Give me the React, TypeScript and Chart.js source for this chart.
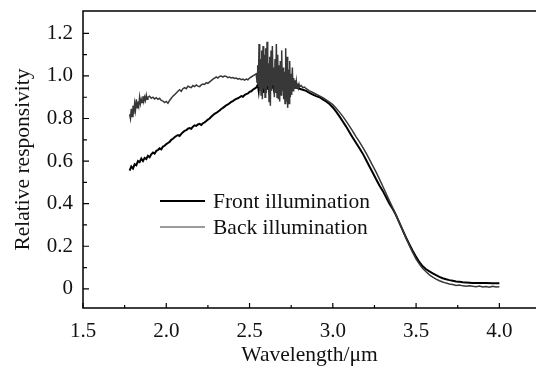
import React, { useEffect, useRef } from "react";
import { Chart, registerables } from "chart.js";

Chart.register(...registerables);

// ---------- data ----------
const frontWavelength: number[] = [
  1.78, 1.79, 1.8, 1.81, 1.82, 1.83, 1.84, 1.85, 1.86, 1.87, 1.88, 1.89, 1.9, 1.91, 1.92, 1.93, 1.94, 1.95, 1.96, 1.97,
  1.98, 1.99, 2.0, 2.01, 2.02, 2.03, 2.04, 2.05, 2.06, 2.07, 2.08, 2.09, 2.1, 2.11, 2.12, 2.13, 2.14, 2.15, 2.16, 2.17,
  2.18, 2.19, 2.2, 2.21, 2.22, 2.23, 2.24, 2.25, 2.26, 2.27, 2.28, 2.29, 2.3, 2.31, 2.32, 2.33, 2.34, 2.35, 2.36, 2.37,
  2.38, 2.39, 2.4, 2.41, 2.42, 2.43, 2.44, 2.45, 2.46, 2.47, 2.48, 2.49, 2.5, 2.51, 2.52, 2.53, 2.54,
  2.55, 2.555, 2.56, 2.565, 2.57, 2.575, 2.58, 2.585, 2.59, 2.595, 2.6, 2.605, 2.61, 2.615, 2.62, 2.625, 2.63, 2.635,
  2.64, 2.645, 2.65, 2.655, 2.66, 2.665, 2.67, 2.675, 2.68, 2.685, 2.69, 2.695, 2.7, 2.705, 2.71, 2.715, 2.72, 2.725,
  2.73, 2.735, 2.74, 2.745, 2.75, 2.755, 2.76,
  2.78, 2.8, 2.82, 2.84, 2.86, 2.88, 2.9, 2.92, 2.94, 2.96, 2.98, 3.0, 3.02, 3.04, 3.06, 3.08, 3.1, 3.12, 3.14, 3.16,
  3.18, 3.2, 3.22, 3.24, 3.26, 3.28, 3.3, 3.32, 3.34, 3.36, 3.38, 3.4, 3.42, 3.44, 3.46, 3.48, 3.5, 3.52, 3.54, 3.56,
  3.58, 3.6, 3.62, 3.64, 3.66, 3.68, 3.7, 3.72, 3.74, 3.76, 3.78, 3.8, 3.84, 3.88, 3.92, 3.96, 4.0,
];
const frontResponse: number[] = [
  0.555, 0.575, 0.565, 0.585, 0.58, 0.6, 0.595, 0.612, 0.6, 0.615, 0.61, 0.625, 0.618, 0.632, 0.64, 0.635, 0.648, 0.652, 0.66, 0.655,
  0.668, 0.672, 0.68, 0.685, 0.69, 0.7, 0.705, 0.712, 0.718, 0.722, 0.718, 0.728, 0.735, 0.742, 0.745, 0.752, 0.755, 0.752, 0.762, 0.768,
  0.765, 0.772, 0.775, 0.77, 0.778, 0.782, 0.788, 0.795, 0.8, 0.808, 0.815, 0.822, 0.826, 0.832, 0.838, 0.845, 0.85, 0.856, 0.862, 0.866,
  0.872, 0.878, 0.882, 0.888, 0.892, 0.895, 0.9, 0.905, 0.902, 0.91, 0.915, 0.918, 0.925, 0.928, 0.935, 0.94, 0.945,
  0.96, 0.93, 0.975, 0.94, 0.985, 0.95, 0.99, 0.92, 0.975, 0.93, 1.0, 0.94, 0.985, 0.95, 0.99, 0.93, 0.98, 0.945,
  0.995, 0.95, 0.975, 0.92, 0.965, 0.93, 0.975, 0.935, 0.96, 0.925, 0.97, 0.94, 0.965, 0.935, 0.96, 0.94, 0.955, 0.935,
  0.955, 0.94, 0.95, 0.94, 0.948, 0.94, 0.945,
  0.945, 0.94, 0.935, 0.93, 0.92, 0.912, 0.905, 0.9, 0.89, 0.88, 0.868, 0.852, 0.832, 0.81, 0.786, 0.762, 0.736, 0.71, 0.685, 0.66,
  0.635, 0.605, 0.575, 0.545, 0.515, 0.485, 0.46, 0.43, 0.4, 0.375, 0.345, 0.31, 0.275, 0.24, 0.208, 0.178, 0.15, 0.125, 0.106, 0.092,
  0.082, 0.073, 0.064, 0.056, 0.05, 0.045, 0.041, 0.038, 0.035, 0.033, 0.031, 0.03, 0.028, 0.027, 0.027, 0.026, 0.026,
];

const backWavelength: number[] = [
  1.78, 1.785, 1.79, 1.795, 1.8, 1.805, 1.81, 1.815, 1.82, 1.825, 1.83, 1.835, 1.84, 1.845, 1.85, 1.855, 1.86, 1.865, 1.87, 1.875,
  1.88, 1.885, 1.89, 1.9, 1.91, 1.92, 1.93, 1.94, 1.95, 1.96, 1.97, 1.98, 1.99, 2.0, 2.01, 2.02, 2.03, 2.04, 2.05, 2.06,
  2.07, 2.08, 2.09, 2.1, 2.11, 2.12, 2.13, 2.14, 2.15, 2.16, 2.17, 2.18, 2.19, 2.2, 2.21, 2.22, 2.23, 2.24, 2.25, 2.26,
  2.27, 2.28, 2.29, 2.3, 2.31, 2.32, 2.33, 2.34, 2.35, 2.36, 2.37, 2.38, 2.39, 2.4, 2.41, 2.42, 2.43, 2.44, 2.45, 2.46,
  2.47, 2.48, 2.49, 2.5, 2.51, 2.52, 2.53, 2.54,
  2.545, 2.549, 2.553, 2.557, 2.561, 2.565, 2.569, 2.573, 2.577, 2.581, 2.585, 2.589, 2.593, 2.597, 2.601, 2.605, 2.609, 2.613,
  2.617, 2.621, 2.625, 2.629, 2.633, 2.637, 2.641, 2.645, 2.649, 2.653, 2.657, 2.661, 2.665, 2.669, 2.673, 2.677, 2.681, 2.685,
  2.689, 2.693, 2.697, 2.701, 2.705, 2.709, 2.713, 2.717, 2.721, 2.725, 2.729, 2.733, 2.737, 2.741, 2.745, 2.749, 2.753, 2.757,
  2.761, 2.765, 2.769, 2.773, 2.777, 2.781, 2.785, 2.789, 2.793, 2.797, 2.8, 2.81, 2.82, 2.83, 2.84,
  2.86, 2.88, 2.9, 2.92, 2.94, 2.96, 2.98, 3.0, 3.02, 3.04, 3.06, 3.08, 3.1, 3.12, 3.14, 3.16, 3.18, 3.2, 3.22, 3.24,
  3.26, 3.28, 3.3, 3.32, 3.34, 3.36, 3.38, 3.4, 3.42, 3.44, 3.46, 3.48, 3.5, 3.52, 3.54, 3.56, 3.58, 3.6, 3.62, 3.64,
  3.66, 3.68, 3.7, 3.72, 3.74, 3.76, 3.78, 3.8, 3.82, 3.84, 3.86, 3.88, 3.9, 3.92, 3.94, 3.96, 3.98, 4.0,
];
const backResponse: number[] = [
  0.82, 0.8, 0.845, 0.81, 0.86, 0.82, 0.87, 0.84, 0.89, 0.85, 0.88, 0.86, 0.9, 0.87, 0.89, 0.875, 0.905, 0.88, 0.9, 0.885,
  0.91, 0.89, 0.9, 0.905, 0.895, 0.9, 0.892, 0.898, 0.89, 0.895, 0.885, 0.882, 0.875, 0.88, 0.872, 0.885, 0.895, 0.905, 0.912, 0.92,
  0.928, 0.935, 0.928, 0.94, 0.945, 0.94, 0.952, 0.948, 0.945, 0.955, 0.95, 0.958, 0.952, 0.95, 0.958, 0.962, 0.96, 0.968, 0.965, 0.972,
  0.978, 0.985, 0.99, 0.995, 0.99, 0.998, 1.0, 0.995, 1.0, 0.998, 0.992, 0.995, 0.99, 0.992, 0.988, 0.99, 0.985, 0.988, 0.982, 0.985,
  0.98, 0.985, 0.982, 0.99, 0.995, 1.0, 1.005, 1.01,
  0.97, 1.05, 0.95, 1.15, 0.93, 1.08, 0.91, 1.12, 0.89, 1.14, 0.94, 1.1, 0.9, 1.13, 0.92, 1.16, 0.95, 1.06,
  0.88, 1.09, 0.86, 1.12, 0.93, 1.14, 0.96, 1.04, 0.9, 1.08, 0.92, 1.15, 0.9, 1.1, 0.89, 1.05, 0.88, 1.07,
  0.91, 1.12, 0.93, 1.04, 0.89, 1.02, 0.87, 1.13, 0.88, 1.09, 0.85, 1.03, 0.87, 1.07, 0.9, 1.01, 0.91, 1.04,
  0.93, 0.99, 0.94, 0.98, 0.945, 0.975, 0.945, 0.965, 0.945, 0.96, 0.948, 0.955, 0.945, 0.948, 0.94,
  0.93, 0.922, 0.914, 0.906, 0.898, 0.888, 0.877, 0.865, 0.848, 0.83, 0.81, 0.788, 0.764, 0.74, 0.714, 0.69, 0.664, 0.637, 0.608, 0.578,
  0.548, 0.515, 0.482, 0.448, 0.413, 0.38, 0.346, 0.31, 0.274, 0.238, 0.203, 0.17, 0.14, 0.116, 0.096, 0.08, 0.066, 0.055, 0.046, 0.038,
  0.032, 0.027, 0.023, 0.02, 0.016, 0.018, 0.014, 0.012, 0.015, 0.012, 0.01, 0.013, 0.009, 0.011, 0.008, 0.012, 0.009, 0.01,
];

const seriesLabels: string[] = ["Front illumination", "Back illumination"];
const xMajorTicks: number[] = [1.5, 2.0, 2.5, 3.0, 3.5, 4.0];
const xMinorTicks: number[] = [1.75, 2.25, 2.75, 3.25, 3.75];
const yMajorTicks: number[] = [0, 0.2, 0.4, 0.6, 0.8, 1.0, 1.2];
const yMinorTicks: number[] = [0.1, 0.3, 0.5, 0.7, 0.9, 1.1];

const FONT = "'Liberation Serif', 'Times New Roman', serif";

const framePlugin = {
  id: "frame",
  afterDatasetsDraw(chart: any) {
    const { ctx, chartArea: a, scales } = chart;
    const x = scales.x;
    const y = scales.y;
    ctx.save();
    ctx.strokeStyle = "#000";
    ctx.lineWidth = 1.5;
    ctx.beginPath();
    ctx.moveTo(a.right, a.top);
    ctx.lineTo(a.left, a.top);
    ctx.lineTo(a.left, a.bottom);
    ctx.lineTo(a.right, a.bottom);
    ctx.stroke();
    ctx.lineWidth = 1.2;
    ctx.beginPath();
    xMajorTicks.forEach((v) => {
      const px = x.getPixelForValue(v);
      ctx.moveTo(px, a.bottom);
      ctx.lineTo(px, a.bottom - 5);
    });
    xMinorTicks.forEach((v) => {
      const px = x.getPixelForValue(v);
      ctx.moveTo(px, a.bottom);
      ctx.lineTo(px, a.bottom - 3);
    });
    yMajorTicks.forEach((v) => {
      const py = y.getPixelForValue(v);
      ctx.moveTo(a.left, py);
      ctx.lineTo(a.left + 6, py);
    });
    yMinorTicks.forEach((v) => {
      const py = y.getPixelForValue(v);
      ctx.moveTo(a.left, py);
      ctx.lineTo(a.left + 4, py);
    });
    ctx.stroke();

    // legend inside the plot
    const rows = [201, 227];
    chart.data.datasets.forEach((ds: any, i: number) => {
      const ly = rows[i];
      ctx.strokeStyle = ds.borderColor;
      ctx.lineWidth = i === 0 ? 1.8 : 1.2;
      ctx.beginPath();
      ctx.moveTo(160, ly);
      ctx.lineTo(205, ly);
      ctx.stroke();
      ctx.fillStyle = "#111";
      ctx.font = `21.5px ${FONT}`;
      ctx.textBaseline = "middle";
      ctx.textAlign = "left";
      ctx.fillText(ds.label, 213, ly + 1);
    });
    ctx.restore();
  },
};

export default function App() {
  const ref = useRef<HTMLCanvasElement | null>(null);
  useEffect(() => {
    if (!ref.current) return;
    const front = frontWavelength.map((w, i) => ({ x: w, y: frontResponse[i] }));
    const back = backWavelength.map((w, i) => ({ x: w, y: backResponse[i] }));
    const chart = new Chart(ref.current, {
      type: "line",
      data: {
        datasets: [
          {
            label: seriesLabels[0],
            data: front,
            borderColor: "#000000",
            borderWidth: 2,
            pointRadius: 0,
            tension: 0,
            order: 1,
          },
          {
            label: seriesLabels[1],
            data: back,
            borderColor: "#383838",
            borderWidth: 1.5,
            pointRadius: 0,
            tension: 0,
            order: 0,
          },
        ],
      },
      options: {
        animation: false,
        responsive: false,
        devicePixelRatio: 1,
        layout: { padding: { top: 11, right: 0, left: 0, bottom: 0 } },
        plugins: { legend: { display: false }, tooltip: { enabled: false } },
        scales: {
          x: {
            type: "linear",
            min: 1.5,
            max: 4.22,
            afterBuildTicks: (s: any) => {
              s.ticks = xMajorTicks.map((v) => ({ value: v }));
            },
            afterFit: (s: any) => {
              s.height = 69;
              s.paddingLeft = 0;
              s.paddingRight = 0;
            },
            grid: { display: false, drawTicks: false },
            border: { display: false },
            ticks: {
              color: "#111",
              padding: 11,
              maxRotation: 0,
              font: { family: FONT, size: 21 },
              callback: (v: any) => Number(v).toFixed(1),
            },
            title: {
              display: true,
              text: "Wavelength/\u03bcm",
              color: "#111",
              font: { family: FONT, size: 21.5 },
              padding: { top: 0, bottom: 9 },
            },
          },
          y: {
            type: "linear",
            min: -0.09,
            max: 1.305,
            afterBuildTicks: (s: any) => {
              s.ticks = yMajorTicks.map((v) => ({ value: v }));
            },
            afterFit: (s: any) => {
              s.width = 83;
              s.paddingTop = 0;
              s.paddingBottom = 0;
            },
            grid: { display: false, drawTicks: false },
            border: { display: false },
            ticks: {
              color: "#111",
              padding: 10,
              font: { family: FONT, size: 21 },
              callback: (v: any) => (Number(v) === 0 ? "0" : Number(v).toFixed(1)),
            },
            title: {
              display: true,
              text: "Relative responsivity",
              color: "#111",
              font: { family: FONT, size: 21.5 },
              padding: { top: 10, bottom: 0 },
            },
          },
        },
      },
      plugins: [framePlugin],
    });
    return () => chart.destroy();
  }, []);
  return (
    <div style={{ position: "fixed", left: 0, top: 0, width: 536, height: 377, background: "#fff" }}>
      <canvas ref={ref} width={536} height={377} style={{ display: "block" }} />
    </div>
  );
}
